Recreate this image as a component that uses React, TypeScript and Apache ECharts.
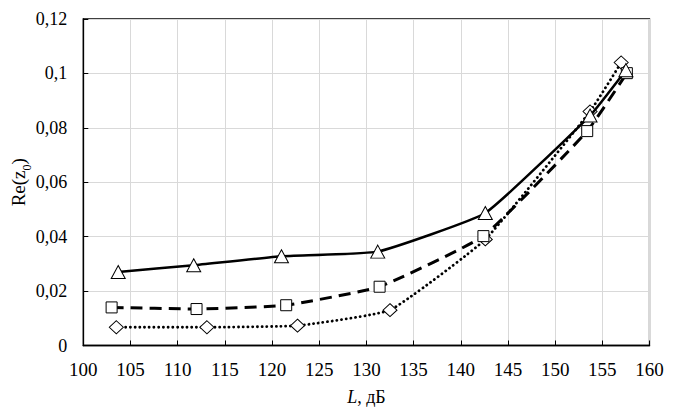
import React, { useEffect, useRef } from "react";
import * as echarts from "echarts";

const triX = [103.7, 111.7, 121.0, 131.2, 142.6, 153.7, 157.5];
const triY = [0.027, 0.0295, 0.0328, 0.0345, 0.0487, 0.0845, 0.1012];
const sqX = [103.0, 112.0, 121.5, 131.4, 142.4, 153.4, 157.6];
const sqY = [0.014, 0.0134, 0.0148, 0.0216, 0.0402, 0.0788, 0.1001];
const diaX = [103.5, 113.1, 122.7, 132.5, 142.6, 153.7, 157.0];
const diaY = [0.0067, 0.0067, 0.0073, 0.013, 0.039, 0.086, 0.104];

const FONT = "Liberation Serif";

function pairs(xs: number[], ys: number[]) {
  return xs.map((x, i) => [x, ys[i]]);
}

export default function App() {
  const ref = useRef<HTMLDivElement>(null);
  useEffect(() => {
    if (!ref.current) return;
    const chart = echarts.init(ref.current, undefined, { renderer: "svg" });
    const markerStyle = { color: "#ffffff", borderColor: "#000000", borderWidth: 1 };
    chart.setOption({
      animation: false,
      backgroundColor: "#ffffff",
      textStyle: { fontFamily: FONT },
      grid: {
        left: 83.3,
        right: 23.5,
        top: 19,
        bottom: 67.5,
        show: false,
        containLabel: false,
        outerBoundsMode: "none",
      },
      xAxis: {
        type: "value",
        min: 100,
        max: 160,
        interval: 5,
        name: "{i|L}, дБ",
        nameLocation: "middle",
        nameGap: 42,
        nameMoveOverlap: false,
        nameTextStyle: {
          fontFamily: FONT,
          fontSize: 18,
          color: "#000",
          rich: { i: { fontStyle: "italic", fontFamily: FONT, fontSize: 18, color: "#000" } },
        },
        axisLine: { show: true, onZero: false, lineStyle: { color: "#000", width: 1.3 } },
        axisTick: { show: true, inside: true, length: 5, lineStyle: { color: "#000" } },
        axisLabel: { fontFamily: FONT, fontSize: 19, color: "#000", margin: 14 },
        splitLine: { show: true, lineStyle: { color: "#d9d9d9", width: 1 } },
      },
      yAxis: {
        type: "value",
        min: 0,
        max: 0.12,
        interval: 0.02,
        name: "Re(z{s|0})",
        nameLocation: "middle",
        nameGap: 55,
        nameMoveOverlap: false,
        nameTextStyle: {
          fontFamily: FONT,
          fontSize: 19,
          color: "#000",
          rich: { s: { fontFamily: FONT, fontSize: 12, color: "#000", verticalAlign: "bottom", padding: [0, 0, -5, 0] } },
        },
        axisLine: { show: true, lineStyle: { color: "#000", width: 1.3 } },
        axisTick: { show: true, inside: true, length: 5, lineStyle: { color: "#000" } },
        axisLabel: {
          fontFamily: FONT,
          fontSize: 18,
          color: "#000",
          margin: 16,
          formatter: (v: number) => String(Number(v.toFixed(2))).replace(".", ","),
        },
        splitLine: { show: true, lineStyle: { color: "#d9d9d9", width: 1 } },
      },
      series: [
        {
          type: "line",
          data: pairs(diaX, diaY),
          smooth: 0.12,
          symbol: "diamond",
          symbolSize: [14, 13],
          itemStyle: markerStyle,
          lineStyle: { color: "#000", width: 2.8, type: [0.1, 4.6], cap: "round" },
          z: 2,
        },
        {
          type: "line",
          data: pairs(sqX, sqY),
          smooth: 0.12,
          symbol: "rect",
          symbolSize: 11,
          itemStyle: markerStyle,
          lineStyle: { color: "#000", width: 3, type: [12, 7] },
          z: 3,
        },
        {
          type: "line",
          data: pairs(triX, triY),
          smooth: 0.12,
          symbol: "triangle",
          symbolSize: [14, 13],
          itemStyle: markerStyle,
          lineStyle: { color: "#000", width: 2.5, type: "solid" },
          z: 4,
        },
      ],
      graphic: [
        {
          type: "rect",
          shape: { x: 83.3, y: 19, width: 649.5 - 83.3, height: 345.5 - 19 },
          style: { fill: "none", stroke: "#000", lineWidth: 1.3 },
          silent: true,
          z: 0,
        },
      ],
    });
    return () => chart.dispose();
  }, []);
  return (
    <div
      ref={ref}
      style={{ position: "fixed", left: 0, top: 0, width: 673, height: 413, background: "#fff" }}
    />
  );
}
